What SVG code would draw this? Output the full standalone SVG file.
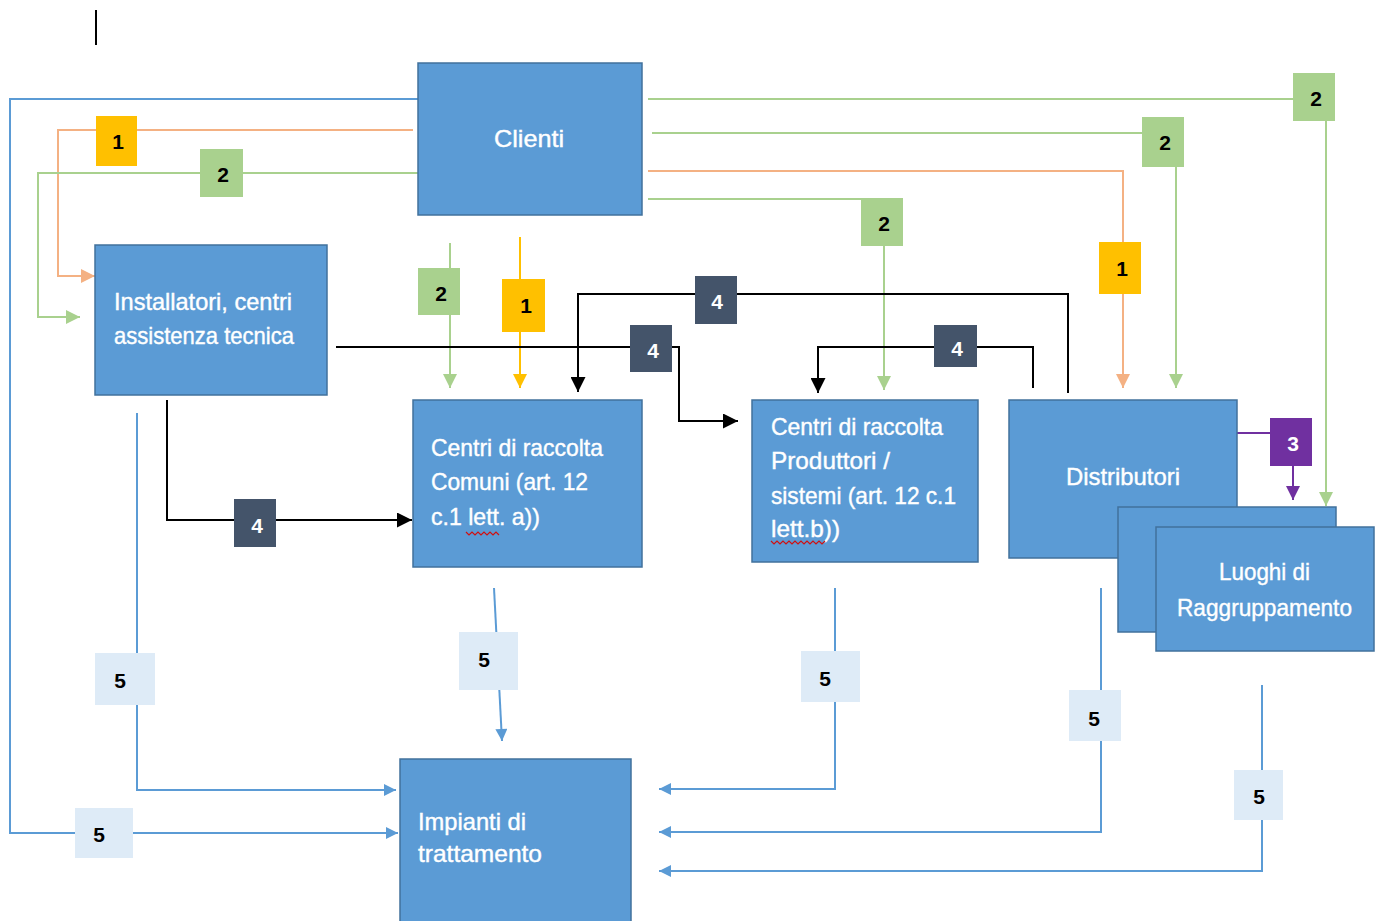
<svg xmlns="http://www.w3.org/2000/svg" width="1383" height="921" viewBox="0 0 1383 921">
<style>
.node{fill:#5B9BD5;stroke:#41719C;stroke-width:1.5}
.nt{font-family:"Liberation Sans",Arial,sans-serif;font-size:24px;fill:#fff;stroke:#fff;stroke-width:0.4}
.lt{font-family:"Liberation Sans",Arial,sans-serif;font-size:21px;font-weight:bold;text-anchor:middle;dominant-baseline:central}
.c{fill:none;stroke-width:2}
.bl{stroke:#5B9BD5}.gr{stroke:#A9D18E}.or{stroke:#F4B183}.go{stroke:#FFC000}.bk{stroke:#000}.pu{stroke:#7030A0}
.sq{fill:none;stroke:#D01010;stroke-width:1.2}
</style>
<defs>
<marker id="aBl" viewBox="0 0 10 10" refX="10" refY="5" markerWidth="14" markerHeight="12" markerUnits="userSpaceOnUse" orient="auto"><path d="M0,0L10,5L0,10z" fill="#5B9BD5"/></marker>
<marker id="aGr" viewBox="0 0 10 10" refX="10" refY="5" markerWidth="14" markerHeight="14" markerUnits="userSpaceOnUse" orient="auto"><path d="M0,0L10,5L0,10z" fill="#A9D18E"/></marker>
<marker id="aOr" viewBox="0 0 10 10" refX="10" refY="5" markerWidth="14" markerHeight="14" markerUnits="userSpaceOnUse" orient="auto"><path d="M0,0L10,5L0,10z" fill="#F4B183"/></marker>
<marker id="aGo" viewBox="0 0 10 10" refX="10" refY="5" markerWidth="14" markerHeight="14" markerUnits="userSpaceOnUse" orient="auto"><path d="M0,0L10,5L0,10z" fill="#FFC000"/></marker>
<marker id="aBk" viewBox="0 0 10 10" refX="10" refY="5" markerWidth="15" markerHeight="15" markerUnits="userSpaceOnUse" orient="auto"><path d="M0,0L10,5L0,10z" fill="#000"/></marker>
<marker id="aPu" viewBox="0 0 10 10" refX="10" refY="5" markerWidth="14" markerHeight="14" markerUnits="userSpaceOnUse" orient="auto"><path d="M0,0L10,5L0,10z" fill="#7030A0"/></marker>
</defs>
<rect width="1383" height="921" fill="#fff"/>
<line x1="96" y1="10" x2="96" y2="45" stroke="#000" stroke-width="2"/>

<g id="connectors">
<path class="c bl" d="M418,99H10V833H398" marker-end="url(#aBl)"/>
<path class="c or" d="M413,130H58V276H95" marker-end="url(#aOr)"/>
<path class="c gr" d="M425,173H38V317H80" marker-end="url(#aGr)"/>
<path class="c gr" d="M648,99H1326V506" marker-end="url(#aGr)"/>
<path class="c gr" d="M652,133H1176V388" marker-end="url(#aGr)"/>
<path class="c or" d="M648,171H1123V388" marker-end="url(#aOr)"/>
<path class="c gr" d="M648,199H884V390" marker-end="url(#aGr)"/>
<path class="c gr" d="M450,243V388" marker-end="url(#aGr)"/>
<path class="c go" d="M520,237V388" marker-end="url(#aGo)"/>
<path class="c bk" d="M336,347H679V421H738" marker-end="url(#aBk)"/>
<path class="c bk" d="M1068,393V294H578V392" marker-end="url(#aBk)"/>
<path class="c bk" d="M1033,388V347H818V393" marker-end="url(#aBk)"/>
<path class="c bk" d="M167,400V520H412" marker-end="url(#aBk)"/>
<path class="c pu" d="M1237,433H1293V500" marker-end="url(#aPu)"/>
<path class="c bl" d="M137,413V790H396" marker-end="url(#aBl)"/>
<path class="c bl" d="M494,588L502,741" marker-end="url(#aBl)"/>
<path class="c bl" d="M835,588V789H659" marker-end="url(#aBl)"/>
<path class="c bl" d="M1101,588V832H659" marker-end="url(#aBl)"/>
<path class="c bl" d="M1262,685V871H659" marker-end="url(#aBl)"/>
</g>

<g id="n-clienti"><rect class="node" x="418" y="63" width="224" height="152"/><text class="nt" x="494" y="147" font-size="27" textLength="70" lengthAdjust="spacingAndGlyphs">Clienti</text></g>
<g id="n-installatori"><rect class="node" x="95" y="245" width="232" height="150"/>
<text class="nt" x="114" y="310" textLength="178" lengthAdjust="spacingAndGlyphs">Installatori, centri</text>
<text class="nt" x="114" y="344" textLength="180" lengthAdjust="spacingAndGlyphs">assistenza tecnica</text></g>
<g id="n-comuni"><rect class="node" x="413" y="400" width="229" height="167"/>
<text class="nt" x="431" y="456" textLength="172" lengthAdjust="spacingAndGlyphs">Centri di raccolta</text>
<text class="nt" x="431" y="490" textLength="157" lengthAdjust="spacingAndGlyphs">Comuni (art. 12</text>
<text class="nt" x="431" y="525" textLength="109" lengthAdjust="spacingAndGlyphs">c.1 lett. a))</text>
<path class="sq" d="M466,532l3,3l3,-3l3,3l3,-3l3,3l3,-3l3,3l3,-3l3,3l3,-3l3,3"/></g>
<g id="n-produttori"><rect class="node" x="752" y="400" width="226" height="162"/>
<text class="nt" x="771" y="435" textLength="172" lengthAdjust="spacingAndGlyphs">Centri di raccolta</text>
<text class="nt" x="771" y="469" textLength="119" lengthAdjust="spacingAndGlyphs">Produttori /</text>
<text class="nt" x="771" y="504" textLength="185" lengthAdjust="spacingAndGlyphs">sistemi (art. 12 c.1</text>
<text class="nt" x="771" y="537" textLength="69" lengthAdjust="spacingAndGlyphs">lett.b))</text>
<path class="sq" d="M771,541l3,3l3,-3l3,3l3,-3l3,3l3,-3l3,3l3,-3l3,3l3,-3l3,3l3,-3l3,3l3,-3l3,3l3,-3l3,3l3,-3"/></g>
<g id="n-distributori"><rect class="node" x="1009" y="400" width="228" height="158"/>
<text class="nt" x="1066" y="485" textLength="114" lengthAdjust="spacingAndGlyphs">Distributori</text></g>
<g id="n-luoghi"><rect class="node" x="1118" y="507" width="218" height="125"/><rect class="node" x="1156" y="527" width="218" height="124"/>
<text class="nt" x="1219" y="580" textLength="91" lengthAdjust="spacingAndGlyphs">Luoghi di</text>
<text class="nt" x="1177" y="616" textLength="175" lengthAdjust="spacingAndGlyphs">Raggruppamento</text></g>
<g id="n-impianti"><rect class="node" x="400" y="759" width="231" height="170"/>
<text class="nt" x="418" y="830" textLength="108" lengthAdjust="spacingAndGlyphs">Impianti di</text>
<text class="nt" x="418" y="862" textLength="124" lengthAdjust="spacingAndGlyphs">trattamento</text></g>

<g id="labels">
<g><rect x="96" y="116" width="41" height="50" fill="#FFC000"/><text class="lt" x="118" y="141">1</text></g>
<g><rect x="200" y="149" width="43" height="48" fill="#A9D18E"/><text class="lt" x="223" y="174">2</text></g>
<g><rect x="1293" y="73" width="42" height="48" fill="#A9D18E"/><text class="lt" x="1316" y="98">2</text></g>
<g><rect x="1142" y="117" width="42" height="50" fill="#A9D18E"/><text class="lt" x="1165" y="142">2</text></g>
<g><rect x="1099" y="242" width="42" height="52" fill="#FFC000"/><text class="lt" x="1122" y="268">1</text></g>
<g><rect x="861" y="198" width="42" height="48" fill="#A9D18E"/><text class="lt" x="884" y="223">2</text></g>
<g><rect x="418" y="268" width="42" height="47" fill="#A9D18E"/><text class="lt" x="441" y="293">2</text></g>
<g><rect x="502" y="279" width="43" height="53" fill="#FFC000"/><text class="lt" x="526" y="305">1</text></g>
<g><rect x="630" y="325" width="42" height="47" fill="#44546A"/><text class="lt" x="653" y="350" fill="#fff">4</text></g>
<g><rect x="695" y="276" width="42" height="48" fill="#44546A"/><text class="lt" x="717" y="301" fill="#fff">4</text></g>
<g><rect x="934" y="325" width="43" height="42" fill="#44546A"/><text class="lt" x="957" y="348" fill="#fff">4</text></g>
<g><rect x="234" y="499" width="42" height="48" fill="#44546A"/><text class="lt" x="257" y="525" fill="#fff">4</text></g>
<g><rect x="1270" y="418" width="42" height="48" fill="#7030A0"/><text class="lt" x="1293" y="443" fill="#fff">3</text></g>
<g><rect x="95" y="653" width="60" height="52" fill="#DEEBF7"/><text class="lt" x="120" y="680">5</text></g>
<g><rect x="75" y="808" width="58" height="50" fill="#DEEBF7"/><text class="lt" x="99" y="834">5</text></g>
<g><rect x="459" y="632" width="59" height="58" fill="#DEEBF7"/><text class="lt" x="484" y="659">5</text></g>
<g><rect x="801" y="651" width="59" height="51" fill="#DEEBF7"/><text class="lt" x="825" y="678">5</text></g>
<g><rect x="1069" y="690" width="52" height="51" fill="#DEEBF7"/><text class="lt" x="1094" y="718">5</text></g>
<g><rect x="1234" y="770" width="49" height="50" fill="#DEEBF7"/><text class="lt" x="1259" y="796">5</text></g>
</g>
</svg>
